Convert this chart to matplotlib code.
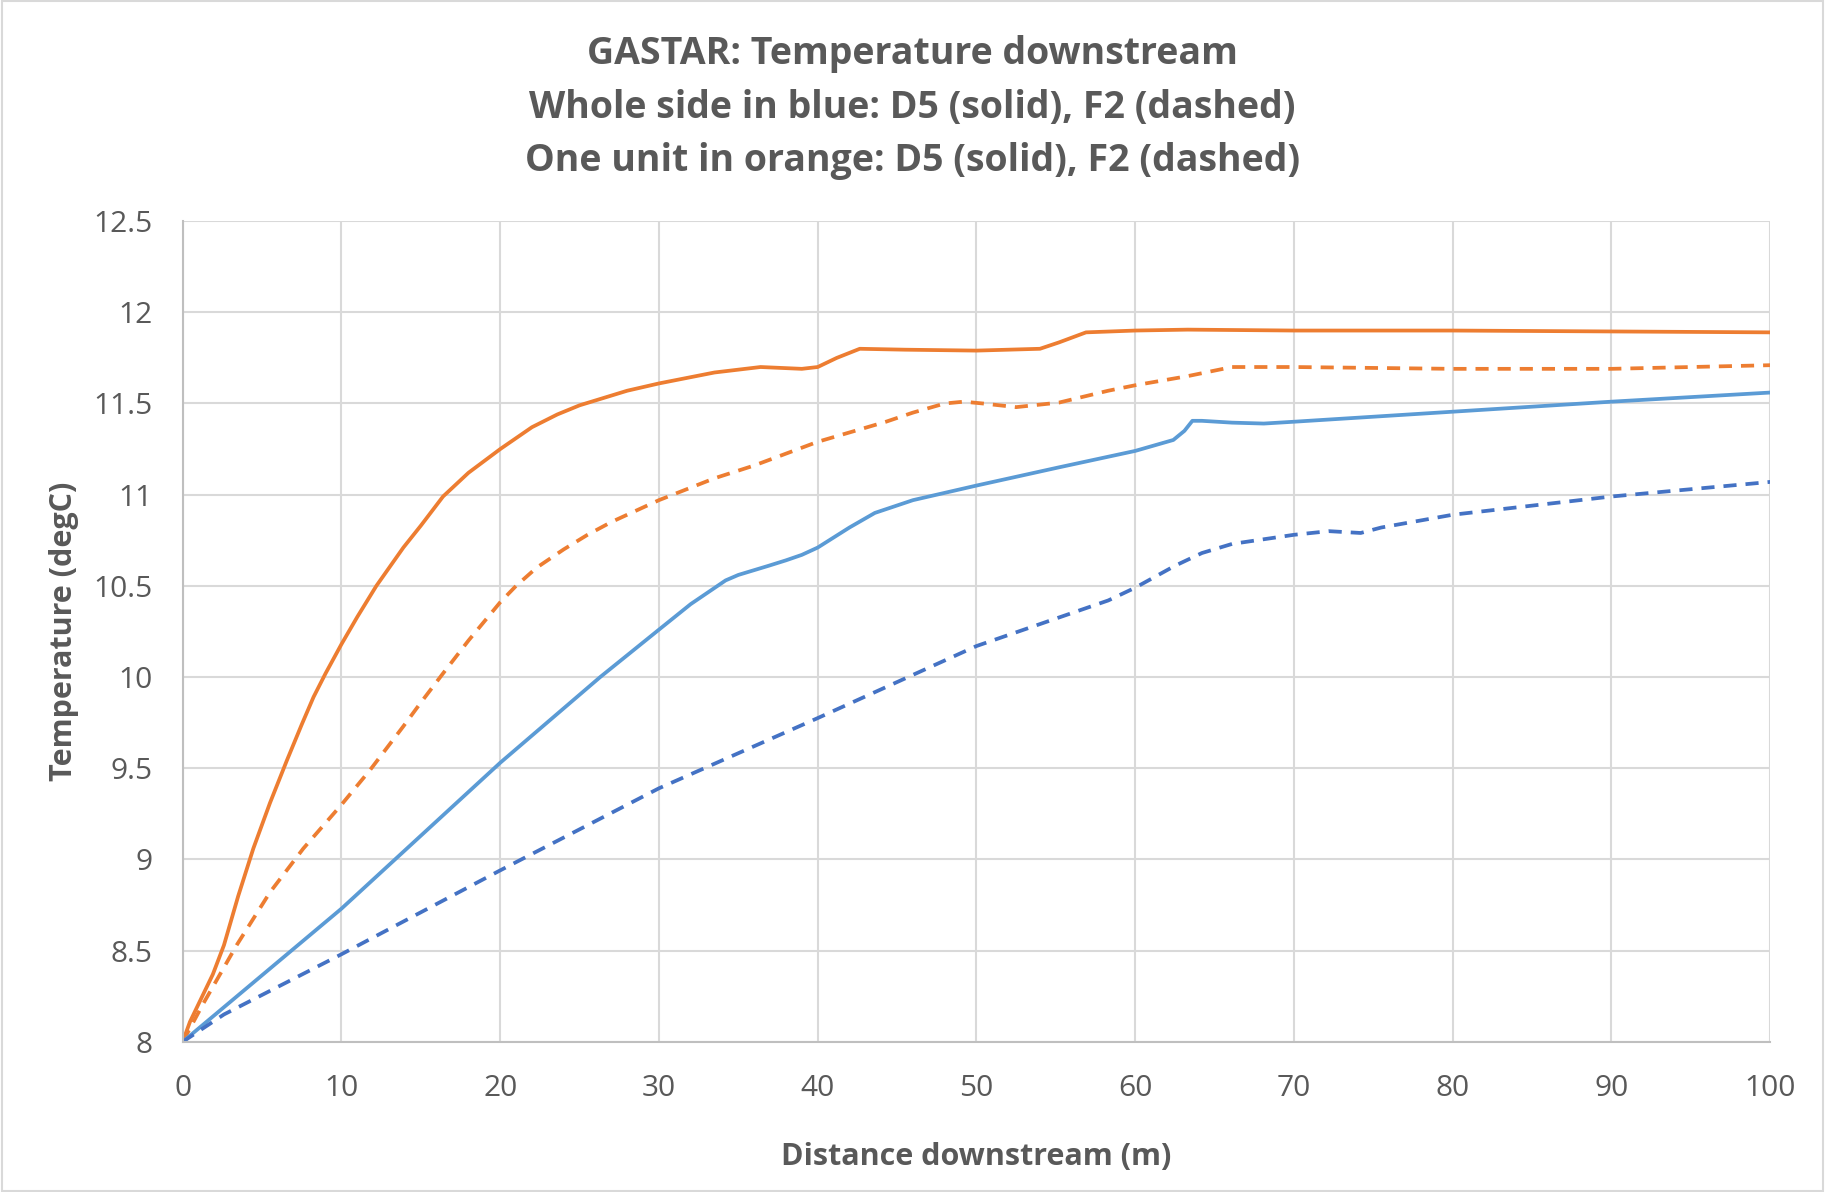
"""GASTAR temperature downstream: whole side vs one unit, D5 vs F2."""

import matplotlib.pyplot as plt
from matplotlib.patches import Rectangle

# One unit (orange), D5 solid
unit_d5_x = [0, 0.46, 1.9, 2.6, 3.5, 4.45, 5.5, 6.55, 7.5, 8.24, 9, 10, 11, 12.2, 13.9,
             15, 16.4, 18, 20, 22, 23.6, 25, 26.5, 28, 30, 33.5, 36.4, 39.0, 40, 41.2,
             42.65, 45.5, 50, 54, 55.2, 56.9, 60, 63.3, 70, 80, 90, 100]
unit_d5_t = [8.0, 8.11, 8.37, 8.53, 8.80, 9.06, 9.31, 9.54, 9.74, 9.89, 10.02, 10.18,
             10.33, 10.5, 10.71, 10.83, 10.99, 11.12, 11.25, 11.37, 11.44, 11.49, 11.53,
             11.57, 11.61, 11.67, 11.70, 11.69, 11.70, 11.75, 11.80, 11.795, 11.79, 11.80,
             11.835, 11.89, 11.90, 11.905, 11.90, 11.90, 11.895, 11.89]

# One unit (orange), F2 dashed
unit_f2_x = [0, 1.3, 3.4, 5.5, 7.6, 10, 11.8, 13.9, 15, 16.4, 18, 20, 21, 22.3, 24, 25.5,
             27, 30, 33.5, 36, 40, 44.3, 46, 48, 49.2, 50.4, 52.5, 55.2, 58.3, 60, 63.3,
             66.1, 70, 80, 90, 100]
unit_f2_t = [8.0, 8.21, 8.53, 8.82, 9.06, 9.30, 9.49, 9.73, 9.86, 10.02, 10.20, 10.41,
             10.50, 10.60, 10.70, 10.78, 10.85, 10.97, 11.09, 11.16, 11.29, 11.40, 11.45,
             11.50, 11.51, 11.50, 11.48, 11.505, 11.57, 11.60, 11.65, 11.70, 11.70, 11.69,
             11.69, 11.71]

# Whole side (blue), D5 solid
side_d5_x = [0, 10, 20, 26.3, 30, 32, 34.2, 35, 36.9, 38, 39.0, 40, 42, 43.6, 46, 50, 55.2,
             60, 62.4, 63.1, 63.6, 64.2, 66.1, 68.1, 70, 80, 90, 100]
side_d5_t = [8.0, 8.73, 9.53, 10.0, 10.26, 10.40, 10.53, 10.56, 10.61, 10.64, 10.67, 10.71,
             10.82, 10.90, 10.97, 11.05, 11.15, 11.24, 11.30, 11.35, 11.405, 11.405,
             11.395, 11.39, 11.40, 11.455, 11.51, 11.56]

# Whole side (blue), F2 dashed
side_f2_x = [0, 2.6, 10, 20, 30, 40, 50, 58.3, 60, 62.5, 64.2, 66.1, 70, 72.2, 74.2, 75.5,
             80, 90, 100]
side_f2_t = [8.0, 8.15, 8.48, 8.94, 9.39, 9.775, 10.17, 10.42, 10.49, 10.61, 10.68, 10.73,
             10.78, 10.80, 10.79, 10.82, 10.89, 10.99, 11.07]

x_ticks = list(range(0, 101, 10))
y_ticks = [8, 8.5, 9, 9.5, 10, 10.5, 11, 11.5, 12, 12.5]
y_tick_labels = ["8", "8.5", "9", "9.5", "10", "10.5", "11", "11.5", "12", "12.5"]

title_lines = [
    "GASTAR: Temperature downstream",
    "Whole side in blue: D5 (solid), F2 (dashed)",
    "One unit in orange: D5 (solid), F2 (dashed)",
]

TEXT = "#595959"
GRID = "#D9D9D9"
ORANGE = "#ED7D31"
BLUE = "#5B9BD5"
DARK_BLUE = "#4472C4"

plt.rcParams["font.family"] = ["Open Sans", "DejaVu Sans"]

fig = plt.figure(figsize=(18.25, 11.92), dpi=100)
fig.patches.append(Rectangle((0.001, 0.001), 0.998, 0.998, transform=fig.transFigure,
                             fill=False, edgecolor="#D9D9D9", linewidth=1.5))
ax = fig.add_axes([0.1001, 0.126, 0.8699, 0.6885])

lw = 2.7
dash = (3.5, 2.4)
style = dict(lw=lw, solid_joinstyle="round", dash_joinstyle="round")
ax.plot(unit_d5_x, unit_d5_t, color=ORANGE, **style)
ax.plot(unit_f2_x, unit_f2_t, color=ORANGE, linestyle=(0, dash), **style)
ax.plot(side_d5_x, side_d5_t, color=BLUE, **style)
ax.plot(side_f2_x, side_f2_t, color=DARK_BLUE, linestyle=(0, dash), **style)

ax.set_xlim(0, 100)
ax.set_ylim(8, 12.5)
ax.set_xticks(x_ticks)
ax.set_yticks(y_ticks)
ax.set_yticklabels(y_tick_labels)
ax.grid(True, color=GRID, linewidth=1.5)
ax.set_axisbelow(True)
for side in ["top", "right"]:
    ax.spines[side].set_visible(False)
for side in ["left", "bottom"]:
    ax.spines[side].set_color("#BFBFBF")
    ax.spines[side].set_linewidth(1.5)
ax.tick_params(length=0, labelsize=21.5, colors=TEXT)
ax.tick_params(axis="y", pad=22)
ax.tick_params(axis="x", pad=23)

ax.set_xlabel("Distance downstream (m)", fontsize=22, fontweight="bold", color=TEXT,
              labelpad=28)
ax.set_ylabel("Temperature (degC)", fontsize=22, fontweight="bold", color=TEXT,
              labelpad=10)

for i, line in enumerate(title_lines):
    fig.text(0.5, 1 - (54 + 53.5 * i) / 1192, line, ha="center", va="center",
             fontsize=27, fontweight="bold", color=TEXT)

fig.savefig("out.png", dpi=100)
